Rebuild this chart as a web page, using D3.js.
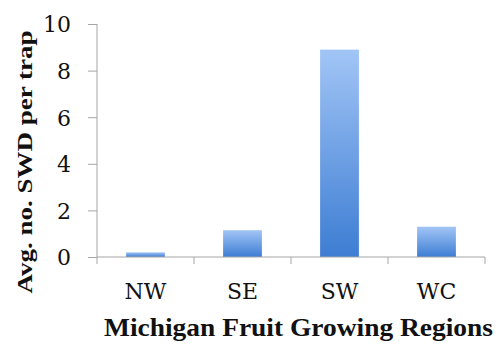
<!DOCTYPE html>
<html>
<head>
<meta charset="utf-8">
<script src="https://cdn.jsdelivr.net/npm/d3@7"></script>
<style>
  body { margin: 0; background: #fff; }
  svg { display: block; }
</style>
</head>
<body>
<svg id="chart" width="500" height="354"></svg>
<script>
const regions = ["NW", "SE", "SW", "WC"];
const avgPerTrap = [0.2, 1.15, 8.9, 1.3];
const yTicks = [0, 2, 4, 6, 8, 10];

const svg = d3.select("#chart");
const margin = {top: 24, right: 15, bottom: 97, left: 97};
const width = 500, height = 354;
const innerW = width - margin.left - margin.right;
const innerH = height - margin.top - margin.bottom;
const tickFont = "DejaVu Serif";
const titleFont = "Liberation Serif";

const x = d3.scaleBand().domain(regions).range([0, innerW]).paddingInner(0.6).paddingOuter(0.3);
const xb = d3.scaleBand().domain(regions).range([0, innerW]);
const y = d3.scaleLinear().domain([0, 10]).range([innerH, 0]);

const grad = svg.append("defs").append("linearGradient")
    .attr("id", "barFill")
    .attr("x1", 0).attr("y1", 0).attr("x2", 0).attr("y2", 1);
grad.append("stop").attr("offset", "0%").attr("stop-color", "#a2c5f6");
grad.append("stop").attr("offset", "100%").attr("stop-color", "#3d7dd3");

const g = svg.append("g")
    .attr("transform", `translate(${margin.left}, ${margin.top})`);

g.selectAll(".bar")
    .data(regions)
    .join("rect")
    .attr("class", "bar")
    .attr("x", d => x(d))
    .attr("width", x.bandwidth())
    .attr("y", (d, i) => y(avgPerTrap[i]))
    .attr("height", (d, i) => innerH - y(avgPerTrap[i]))
    .attr("fill", "url(#barFill)");

// y axis
const yAxis = g.append("g")
    .call(d3.axisLeft(y).tickValues(yTicks).tickSize(9).tickPadding(17).tickFormat(d3.format("d")))
    .attr("font-family", tickFont)
    .attr("font-size", 22);
yAxis.select(".domain").attr("stroke", "#a6a6a6").attr("d", `M0,0V${innerH}`);
yAxis.selectAll(".tick line").attr("stroke", "#a6a6a6");
yAxis.selectAll("text")
    .attr("fill", "#111")
    .attr("dy", "0.36em");

// x axis
const xAxis = g.append("g")
    .attr("transform", `translate(0, ${innerH})`)
    .call(d3.axisBottom(xb).tickSize(0).tickPadding(26))
    .attr("font-family", tickFont)
    .attr("font-size", 22);
xAxis.select(".domain").attr("stroke", "#a6a6a6").attr("d", `M0,0H${innerW}`);
xAxis.selectAll("text")
    .attr("fill", "#111");

g.append("g")
    .selectAll("line")
    .data(regions.concat(["end"]))
    .join("line")
    .attr("x1", (d, i) => i * xb.bandwidth())
    .attr("x2", (d, i) => i * xb.bandwidth())
    .attr("y1", innerH)
    .attr("y2", innerH + 7)
    .attr("stroke", "#a6a6a6");

// titles
svg.append("text")
    .attr("x", 298.5)
    .attr("y", 336)
    .attr("text-anchor", "middle")
    .attr("fill", "#111")
    .attr("font-family", titleFont)
    .attr("font-size", 25)
    .attr("font-weight", "bold")
    .attr("textLength", 389)
    .attr("lengthAdjust", "spacingAndGlyphs")
    .text("Michigan Fruit Growing Regions");

svg.append("text")
    .attr("transform", "translate(32, 162) rotate(-90)")
    .attr("text-anchor", "middle")
    .attr("fill", "#111")
    .attr("font-family", titleFont)
    .attr("font-size", 22)
    .attr("font-weight", "bold")
    .attr("textLength", 263)
    .attr("lengthAdjust", "spacingAndGlyphs")
    .text("Avg. no. SWD per trap");
</script>
</body>
</html>
